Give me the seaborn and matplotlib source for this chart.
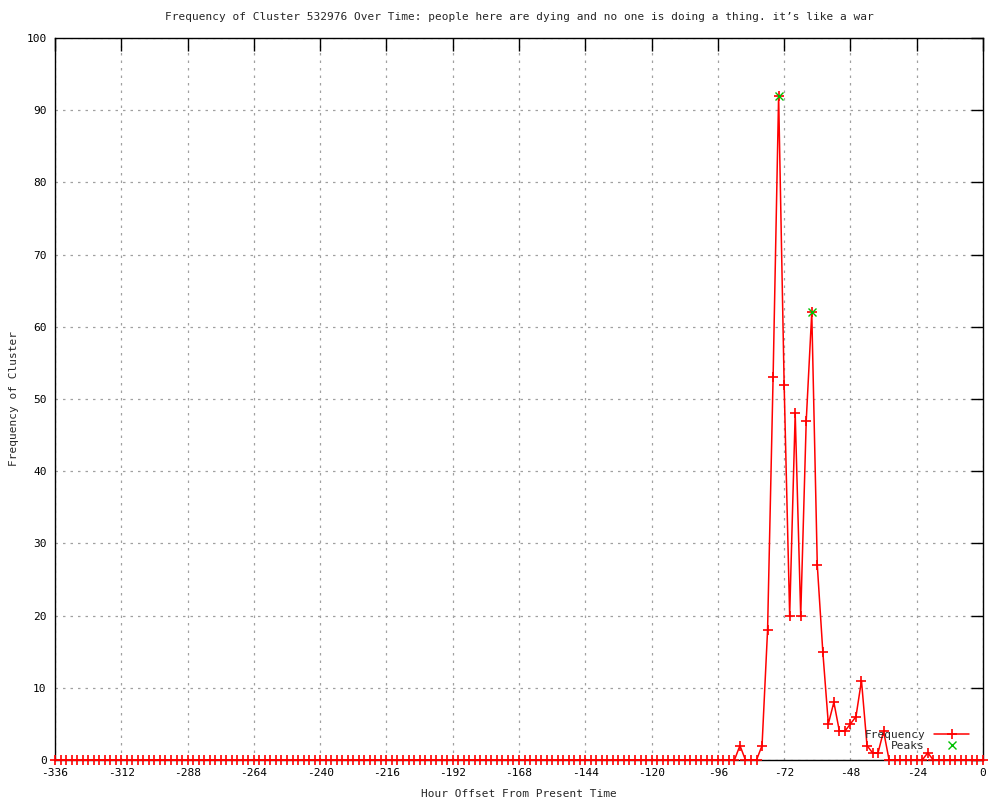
import numpy as np
import pandas as pd
import matplotlib
matplotlib.use('Agg')
import matplotlib.pyplot as plt
import seaborn as sns

sns.set_theme(style='white')
plt.rcParams['font.family'] = ['DejaVu Sans Mono']
plt.rcParams['axes.unicode_minus'] = False

# hour offsets every 2 hours, counts (all others are 0)
hours = list(range(-336, 1, 2))
nonzero_hours = [-88, -80, -78, -76, -74, -72, -70, -68, -66, -64, -62, -60, -58,
                 -56, -54, -52, -50, -48, -46, -44, -42, -40, -38, -36, -20]
nonzero_counts = [2, 2, 18, 53, 92, 52, 20, 48, 20, 47, 62, 27, 15,
                  5, 8, 4, 4, 5, 6, 11, 2, 1, 1, 4, 1]
peak_hours = [-74, -62]
peak_counts = [92, 62]
title = ("Frequency of Cluster 532976 Over Time: people here are dying and no one "
         "is doing a thing. it\u2019s like a war")

lookup = dict(zip(nonzero_hours, nonzero_counts))
freq = pd.DataFrame({'hour': hours, 'count': [lookup.get(h, 0) for h in hours]})
peaks = pd.DataFrame({'hour': peak_hours, 'count': peak_counts})

fig = plt.figure(figsize=(10, 8), dpi=100)
ax = fig.add_axes([0.055, 0.05, 0.928, 0.9025])

sns.lineplot(data=freq, x='hour', y='count', ax=ax, color='red', lw=1.1,
             marker='+', markersize=7, markeredgewidth=1.2, markeredgecolor='red',
             label='Frequency', clip_on=False, zorder=5)
sns.lineplot(data=peaks, x='hour', y='count', ax=ax, color='#00c000', lw=0,
             marker='x', markersize=6, markeredgewidth=1.0, markeredgecolor='#00c000',
             label='Peaks', zorder=6)

ax.set_xlim(-336, 0)
ax.set_ylim(0, 100)
ax.set_xticks(range(-336, 1, 24))
ax.set_yticks(range(0, 101, 10))
ax.grid(True, color='#a0a0a0', linestyle=(0, (2, 4)), lw=0.9)
ax.tick_params(direction='in', length=9, width=1, top=True, right=True,
               labelsize=8, pad=6, colors='black')
for s in ax.spines.values():
    s.set_color('black')
    s.set_linewidth(1)

ax.set_xlabel('Hour Offset From Present Time', fontsize=8, labelpad=8)
ax.set_ylabel('Frequency of Cluster', fontsize=8, labelpad=5)
ax.set_title(title, fontsize=8, pad=13)

ax.legend(loc='lower right', bbox_to_anchor=(0.995, 0.0), frameon=False,
          markerfirst=False, fontsize=8, handlelength=3.2, handletextpad=0.8,
          labelspacing=0.1, borderaxespad=0.4)

plt.savefig('out.png', dpi=100)
